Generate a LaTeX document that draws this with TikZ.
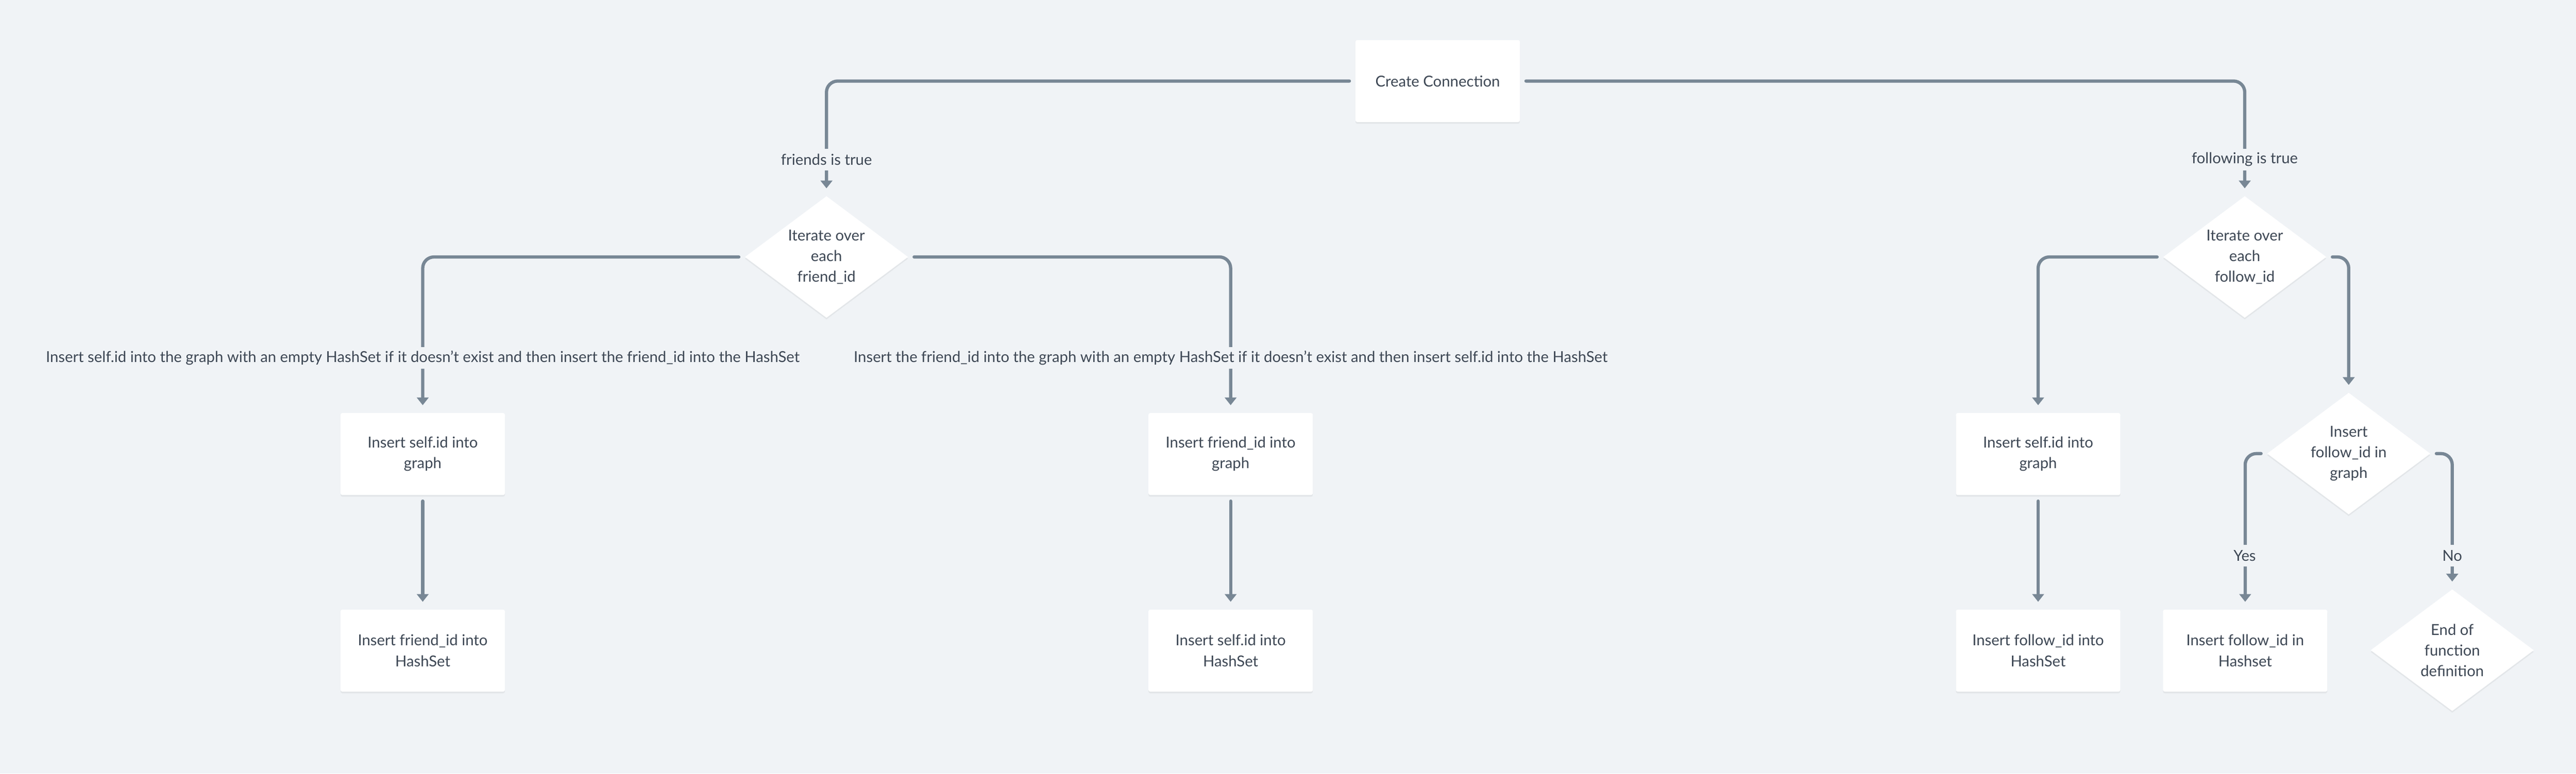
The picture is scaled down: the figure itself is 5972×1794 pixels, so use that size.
\documentclass[tikz,border=0pt]{standalone}
\usepackage{fontspec}
\setmainfont{Lato}
\usetikzlibrary{shapes.geometric,arrows.meta,shadows}
\definecolor{bg}{HTML}{F0F3F6}
\definecolor{ln}{HTML}{788795}
\definecolor{tx}{HTML}{3D4754}
\begin{document}
\begin{tikzpicture}[x=1pt,y=-1pt,
  every node/.style={font=\fontsize{35}{48}\selectfont, text=tx},
  shad/.style={drop shadow={shadow xshift=0pt,shadow yshift=-4pt,opacity=0.05,fill=black}},
  box/.style={fill=white, rounded corners=4pt, minimum width=381pt, minimum height=190pt, align=center, inner sep=0pt, shad},
  dia/.style={diamond, fill=white, minimum width=378pt, minimum height=282pt, inner sep=0pt, align=center, aspect=1.34, shad},
  conn/.style={draw=ln, line width=7.5pt, line cap=round, rounded corners=26pt, shorten <=14pt, shorten >=18pt, -{Triangle[width=27pt,length=18pt]}},
  lbl/.style={fill=bg, inner xsep=6pt, inner ysep=0pt, minimum height=50pt, yshift=-3pt}
]
\fill[bg] (0,0) rectangle (5972,1794);

% nodes
\node[box] (cc) at (3333,188) {Create Connection};
\node[dia] (d1) at (1916,596) {Iterate over\\each\\friend\_id};
\node[dia] (d2) at (5204,596) {Iterate over\\each\\follow\_id};
\node[box] (b1) at (980,1053) {Insert self.id into\\graph};
\node[box] (b2) at (980,1509) {Insert friend\_id into\\HashSet};
\node[box] (b3) at (2853,1053) {Insert friend\_id into\\graph};
\node[box] (b4) at (2853,1509) {Insert self.id into\\HashSet};
\node[box] (b5) at (4725,1053) {Insert self.id into\\graph};
\node[box] (b6) at (4725,1509) {Insert follow\_id into\\HashSet};
\node[dia] (d3) at (5445,1052) {Insert\\follow\_id in\\graph};
\node[box] (b7) at (5205,1509) {Insert follow\_id in\\Hashset};
\node[dia] (d4) at (5685,1508) {End of\\function\\definition};

% connectors
\draw[conn] (cc.west) -| (d1.north);
\draw[conn] (cc.east) -| (d2.north);
\draw[conn] (d1.west) -| (b1.north);
\draw[conn] (d1.east) -| (b3.north);
\draw[conn] (b1.south) -- (b2.north);
\draw[conn] (b3.south) -- (b4.north);
\draw[conn] (d2.west) -| (b5.north);
\draw[conn] (b5.south) -- (b6.north);
\draw[conn] (d2.east) -| (d3.north);
\draw[conn] (d3.west) -| (b7.north);
\draw[conn] (d3.east) -| (d4.north);

% connector labels
\node[lbl] (l1) at (1916,367) {friends is true};
\node[lbl] (l2) at (5204,367) {following is true};
\node[lbl] (l3) at (980,827) {Insert self.id into the graph with an empty HashSet if it doesn't exist and then insert the friend\_id into the HashSet};
\node[lbl] (l4) at (2853,827) {Insert the friend\_id into the graph with an empty HashSet if it doesn't exist and then insert self.id into the HashSet};
\node[lbl] (l5) at (5204,1286) {Yes};
\node[lbl] (l6) at (5685,1286) {No};
\end{tikzpicture}
\end{document}
